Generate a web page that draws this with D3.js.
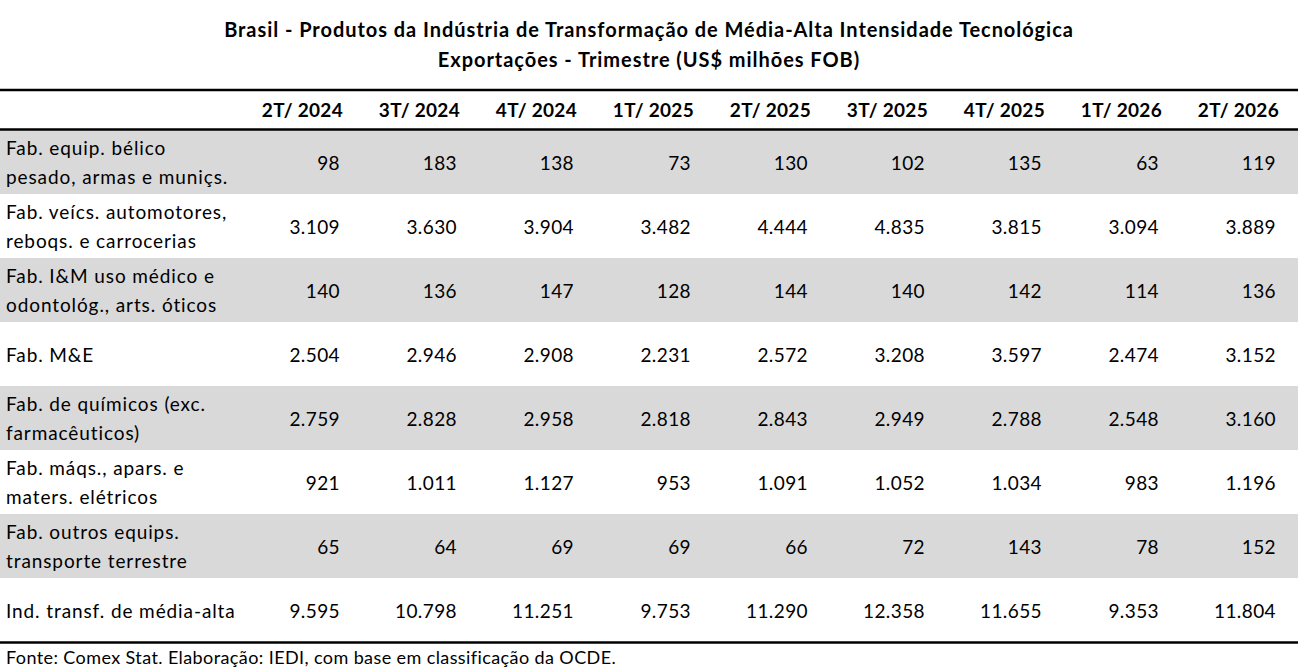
<!DOCTYPE html>
<html>
<head>
<meta charset="utf-8">
<script src="https://cdn.jsdelivr.net/npm/d3@7"></script>
<style>
  body { margin: 0; background: #fff; }
  svg text { font-family: Lato, "Open Sans", sans-serif; fill: #000; }
</style>
</head>
<body>
<div id="table"></div>
<script>
// Title and footer
const titleLines = [
    "Brasil - Produtos da Indústria de Transformação de Média-Alta Intensidade Tecnológica",
    "Exportações - Trimestre (US$ milhões FOB)"
];
const footnote = "Fonte: Comex Stat. Elaboração: IEDI, com base em classificação da OCDE.";

// Column headers (quarters)
const periods = ["2T/ 2024", "3T/ 2024", "4T/ 2024", "1T/ 2025", "2T/ 2025", "3T/ 2025", "4T/ 2025", "1T/ 2026", "2T/ 2026"];

// Row labels (wrapped lines)
const sectors = [
    ["Fab. equip. bélico", "pesado, armas e muniçs."],
    ["Fab. veícs. automotores,", "reboqs. e carrocerias"],
    ["Fab. I&M uso médico e", "odontológ., arts. óticos"],
    ["Fab. M&E"],
    ["Fab. de químicos (exc.", "farmacêuticos)"],
    ["Fab. máqs., apars. e", "maters. elétricos"],
    ["Fab. outros equips.", "transporte terrestre"],
    ["Ind. transf. de média-alta"]
];

// Values, US$ millions FOB
const belico      = [98, 183, 138, 73, 130, 102, 135, 63, 119];
const veiculos    = [3109, 3630, 3904, 3482, 4444, 4835, 3815, 3094, 3889];
const medico      = [140, 136, 147, 128, 144, 140, 142, 114, 136];
const maqEquip    = [2504, 2946, 2908, 2231, 2572, 3208, 3597, 2474, 3152];
const quimicos    = [2759, 2828, 2958, 2818, 2843, 2949, 2788, 2548, 3160];
const eletricos   = [921, 1011, 1127, 953, 1091, 1052, 1034, 983, 1196];
const transporte  = [65, 64, 69, 69, 66, 72, 143, 78, 152];
const total       = [9595, 10798, 11251, 9753, 11290, 12358, 11655, 9353, 11804];

const rowValues = [belico, veiculos, medico, maqEquip, quimicos, eletricos, transporte, total];

const width = 1298;
const height = 672;
const fontSize = 19;

const svg = d3.select("#table")
    .append("svg")
    .attr("width", width)
    .attr("height", height);

const ptBR = d3.formatLocale({ decimal: ",", thousands: ".", grouping: [3], currency: ["R$", ""] });
const fmt = ptBR.format(",d");

// Column scale: each band's right edge is where numbers end
const x = d3.scaleBand()
    .domain(periods)
    .range([226, 1279])
    .paddingInner(0)
    .paddingOuter(0);

// Row scale
const y = d3.scaleBand()
    .domain(d3.range(sectors.length))
    .range([130, 642]);

// title
svg.selectAll(".title")
    .data(titleLines)
    .enter().append("text")
    .attr("x", width / 2)
    .attr("y", (d, i) => 37 + i * 30)
    .attr("text-anchor", "middle")
    .attr("font-weight", "bold")
    .attr("font-size", 20)
    .attr("letter-spacing", 0.95)
    .text(d => d);

// row backgrounds (alternate gray)
svg.selectAll(".rowbg")
    .data(d3.range(sectors.length))
    .enter().append("rect")
    .attr("x", 0)
    .attr("y", d => y(d))
    .attr("width", width)
    .attr("height", y.bandwidth())
    .attr("fill", d => d % 2 === 0 ? "#d9d9d9" : "#ffffff");

// header text
svg.selectAll(".head")
    .data(periods)
    .enter().append("text")
    .attr("x", d => x(d) + x.bandwidth())
    .attr("y", 117)
    .attr("text-anchor", "end")
    .attr("font-weight", "bold")
    .attr("font-size", fontSize)
    .attr("letter-spacing", 0.3)
    .text(d => d);

// row labels
const labels = svg.selectAll(".label")
    .data(sectors)
    .enter().append("text")
    .attr("font-size", fontSize)
    .attr("letter-spacing", 0.9)
    .attr("x", 6);

labels.each(function (lines, i) {
    const mid = y(i) + y.bandwidth() / 2;
    const start = mid - (lines.length - 1) * 29 / 2;
    d3.select(this).selectAll("tspan")
        .data(lines)
        .enter().append("tspan")
        .attr("x", 6)
        .attr("y", (d, j) => start + j * 29 + 7.5)
        .text(d => d);
});

// cell values
rowValues.forEach(function (vals, i) {
    svg.selectAll(".v" + i)
        .data(vals)
        .enter().append("text")
        .attr("x", (d, j) => x(periods[j]) + x.bandwidth() - 3)
        .attr("y", y(i) + y.bandwidth() / 2 + 8)
        .attr("text-anchor", "end")
        .attr("font-size", fontSize)
        .attr("letter-spacing", 0.4)
        .text(d => fmt(d));
});

// rules
const rules = [
    { y: 90, w: 2.5 },
    { y: 129.5, w: 2.5 },
    { y: 642.5, w: 2.5 }
];
svg.selectAll(".rule")
    .data(rules)
    .enter().append("line")
    .attr("x1", 0)
    .attr("x2", width)
    .attr("y1", d => d.y)
    .attr("y2", d => d.y)
    .attr("stroke", "#000")
    .attr("stroke-width", d => d.w);

// footer
svg.append("text")
    .attr("x", 6)
    .attr("y", 664)
    .attr("font-size", 18)
    .attr("letter-spacing", 0.4)
    .text(footnote);
</script>
</body>
</html>
